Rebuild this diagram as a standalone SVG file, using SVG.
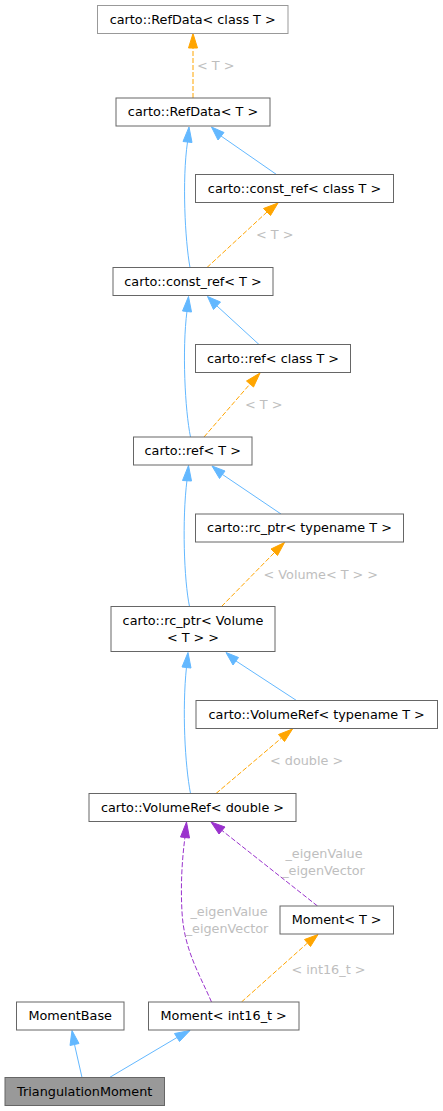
<svg xmlns="http://www.w3.org/2000/svg" width="443" height="1111" viewBox="0 0 443 1111">
<style>
.n rect{fill:#ffffff;stroke:#666666;stroke-width:1}
.n text{font-family:"DejaVu Sans",sans-serif;font-size:12.8px;fill:#000000;text-anchor:middle}
.lbl{font-family:"DejaVu Sans",sans-serif;font-size:12.8px;fill:#bebebe}
.inh{fill:none;stroke:#63b8ff;stroke-width:1}
.tpl{fill:none;stroke:#ffa500;stroke-width:1;stroke-dasharray:5,2}
.use{fill:none;stroke:#9a32cd;stroke-width:1;stroke-dasharray:5,2}
.ah-b{fill:#63b8ff;stroke:#63b8ff}
.ah-o{fill:#ffa500;stroke:#ffa500}
.ah-p{fill:#9a32cd;stroke:#9a32cd}
</style>
<rect width="443" height="1111" fill="#ffffff"/>
<g id="connectors">
<path class="tpl" d="M193,98 L193,48"/>
<polygon class="ah-o" points="188.5,48 193,33.5 197.5,48"/>
<text class="lbl" x="197" y="69.5">&lt; T &gt;</text>
<path class="inh" d="M190,267.5 C185,240 182,180 187.5,142"/>
<polygon class="ah-b" points="183,141.5 189,127 192,142.5"/>
<path class="inh" d="M276.5,174.5 L221,136"/>
<polygon class="ah-b" points="218,140 211.5,127 224,132.5"/>
<path class="tpl" d="M207,267.5 L267,212"/>
<polygon class="ah-o" points="263.5,208.5 278,203 270.5,215.5"/>
<text class="lbl" x="256" y="238.5">&lt; T &gt;</text>
<path class="inh" d="M190.5,437 C185,410 182,350 187,311"/>
<polygon class="ah-b" points="182.5,311 188.5,296.5 191.5,312"/>
<path class="inh" d="M259,344.5 L217,306"/>
<polygon class="ah-b" points="213.5,309.5 207.5,296.5 220.5,302"/>
<path class="tpl" d="M204,437 L250,384"/>
<polygon class="ah-o" points="246.5,381 260,373 253.5,387"/>
<text class="lbl" x="245" y="408.5">&lt; T &gt;</text>
<path class="inh" d="M189.5,606.5 C184,580 182,520 187,480"/>
<polygon class="ah-b" points="182.5,480.5 188.5,465.5 191.5,481"/>
<path class="inh" d="M281,514 L222.5,474.5"/>
<polygon class="ah-b" points="219.5,478.5 212,466 225,471"/>
<path class="tpl" d="M221.5,606.5 L274.5,552.5"/>
<polygon class="ah-o" points="271,549 284.5,542.5 277.5,555.5"/>
<text class="lbl" x="263.5" y="578.5">&lt; Volume&lt; T &gt; &gt;</text>
<path class="inh" d="M190.5,793.5 C185,765 182,710 186.5,667"/>
<polygon class="ah-b" points="182,667 188,652.5 191,668"/>
<path class="inh" d="M296.5,700.5 L236,661"/>
<polygon class="ah-b" points="233,665 226,652.5 238.5,657.5"/>
<path class="tpl" d="M216,793.5 L281.5,738"/>
<polygon class="ah-o" points="278.5,734.5 292.5,729 284.5,741.5"/>
<text class="lbl" x="270" y="764.5">&lt; double &gt;</text>
<path class="use" d="M317.5,906 L222,830.5"/>
<polygon class="ah-p" points="219,834 211,822 225,827"/>
<text class="lbl" x="324" y="857.5" text-anchor="middle">_eigenValue</text>
<text class="lbl" x="323.5" y="874.5" text-anchor="middle">_eigenVector</text>
<path class="use" d="M211.5,1002 C200,975 184,950 182,912 C180.5,885 182,860 185,837"/>
<polygon class="ah-p" points="180.5,837 186.5,822 189.5,838"/>
<text class="lbl" x="229" y="915.5" text-anchor="middle">_eigenValue</text>
<text class="lbl" x="227" y="932.5" text-anchor="middle">_eigenVector</text>
<path class="tpl" d="M241.5,1002 L307.5,943"/>
<polygon class="ah-o" points="304.5,939.5 318,934.5 310.5,946.5"/>
<text class="lbl" x="291.5" y="973.5">&lt; int16_t &gt;</text>
<path class="inh" d="M82,1077.5 L74.5,1044.5"/>
<polygon class="ah-b" points="70,1045.5 72,1030.5 79,1043.5"/>
<path class="inh" d="M109.5,1077.5 L177,1037.5"/>
<polygon class="ah-b" points="174.5,1033.5 190,1030.5 179.5,1041.5"/>
</g>
<g id="n1" class="n"><rect x="97.5" y="5.5" width="190.5" height="28" style="stroke:#999999"/><text x="192.7" y="23.5">carto::RefData&lt; class T &gt;</text></g>
<g id="n2" class="n"><rect x="116" y="98" width="154" height="28"/><text x="193" y="116">carto::RefData&lt; T &gt;</text></g>
<g id="n3" class="n"><rect x="195.5" y="174.5" width="198" height="28"/><text x="294.5" y="192.5">carto::const_ref&lt; class T &gt;</text></g>
<g id="n4" class="n"><rect x="113" y="267.5" width="160" height="28"/><text x="193" y="285.5">carto::const_ref&lt; T &gt;</text></g>
<g id="n5" class="n"><rect x="195.5" y="344.5" width="155" height="28"/><text x="273" y="362.5">carto::ref&lt; class T &gt;</text></g>
<g id="n6" class="n"><rect x="133.5" y="437" width="118.5" height="28"/><text x="192.7" y="455">carto::ref&lt; T &gt;</text></g>
<g id="n7" class="n"><rect x="195.5" y="514" width="208" height="28"/><text x="299.5" y="532">carto::rc_ptr&lt; typename T &gt;</text></g>
<g id="n8" class="n"><rect x="111" y="606.5" width="164" height="45"/><text x="193" y="625">carto::rc_ptr&lt; Volume</text><text x="193" y="641.5">&lt; T &gt; &gt;</text></g>
<g id="n9" class="n"><rect x="196" y="700.5" width="241.5" height="28"/><text x="316.7" y="718.5">carto::VolumeRef&lt; typename T &gt;</text></g>
<g id="n10" class="n"><rect x="89" y="793.5" width="207" height="28"/><text x="192.5" y="811.5">carto::VolumeRef&lt; double &gt;</text></g>
<g id="n11" class="n"><rect x="280" y="906" width="113.5" height="28"/><text x="336.7" y="924">Moment&lt; T &gt;</text></g>
<g id="n12" class="n"><rect x="16.5" y="1002" width="107.5" height="28"/><text x="70.2" y="1020">MomentBase</text></g>
<g id="n13" class="n"><rect x="148.5" y="1002" width="150.5" height="28"/><text x="223.7" y="1020">Moment&lt; int16_t &gt;</text></g>
<g id="n14" class="n"><rect x="5" y="1077.5" width="159.5" height="28" style="fill:#999999"/><text x="84.7" y="1095.5">TriangulationMoment</text></g>
</svg>
